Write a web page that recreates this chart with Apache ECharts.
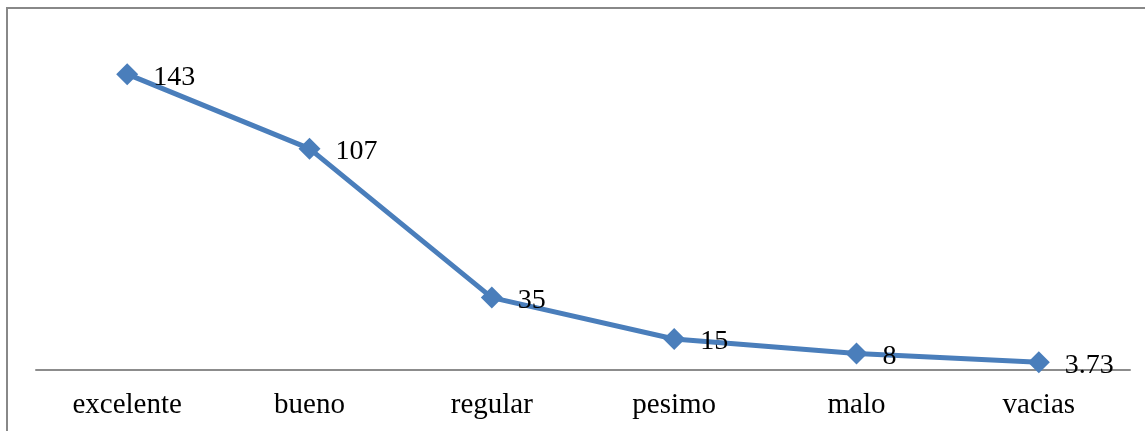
<!DOCTYPE html>
<html><head><meta charset="utf-8">
<script src="https://cdn.jsdelivr.net/npm/echarts@6/dist/echarts.min.js"></script>
<style>html,body{margin:0;padding:0;background:#fff}#c{width:1145px;height:431px}</style>
</head><body><div id="c"></div>
<script>
const categories = ["excelente","bueno","regular","pesimo","malo","vacias"];
const values = [143,107,35,15,8,3.73];
const chart = echarts.init(document.getElementById('c'));
chart.setOption({
  animation:false,
  graphic:[{type:'rect',shape:{x:7,y:8,width:1160,height:440},style:{fill:'none',stroke:'#888',lineWidth:2}}],
  grid:{left:36,right:15,top:39,bottom:61},
  xAxis:{type:'category',data:categories,boundaryGap:true,
    axisLine:{lineStyle:{color:'#8c8c8c',width:2}},axisTick:{show:false},
    axisLabel:{color:'#000',fontFamily:'Liberation Serif',fontSize:29,margin:21}},
  yAxis:{type:'value',min:0,max:160,show:false,splitLine:{show:false}},
  series:[{type:'line',data:values,symbol:'diamond',symbolSize:22,
    lineStyle:{color:'#4a7ebb',width:5},itemStyle:{color:'#4a7ebb'},
    label:{show:true,position:'right',distance:15,offset:[0,3],color:'#000',fontFamily:'Liberation Serif',fontSize:28}}]
});
</script></body></html>
